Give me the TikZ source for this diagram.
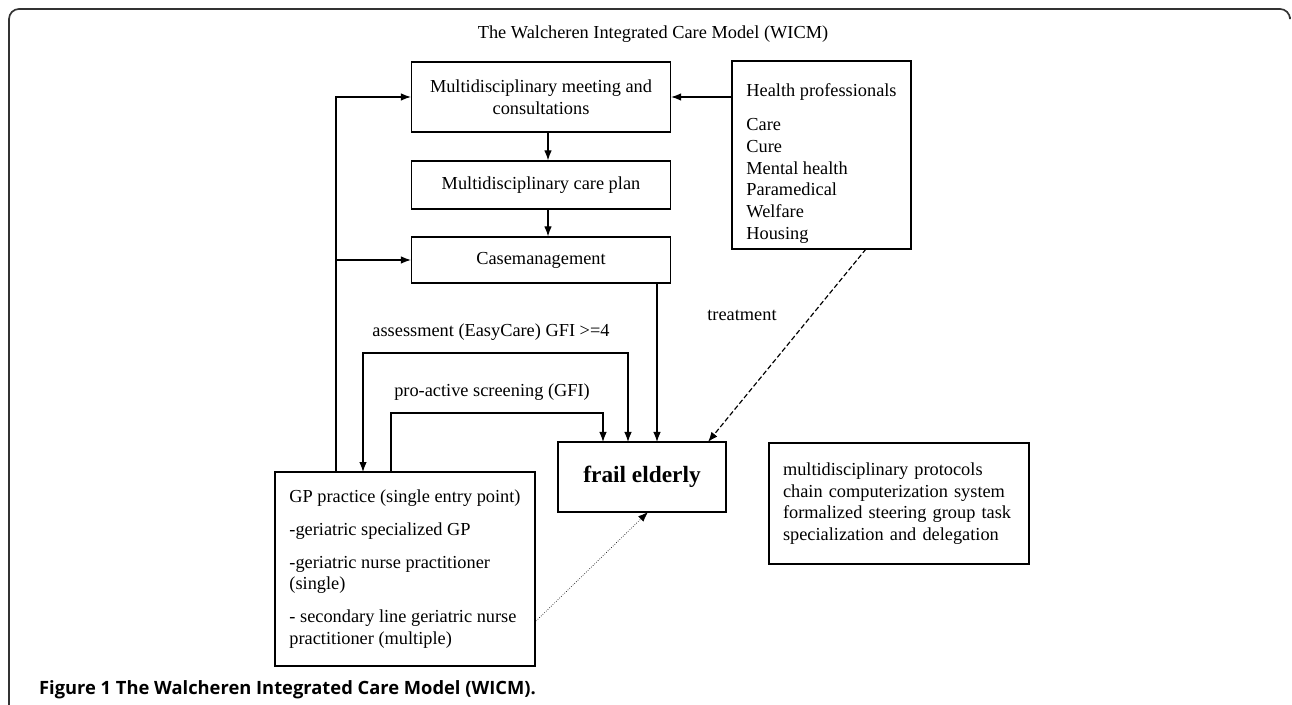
\documentclass[tikz,border=0pt]{standalone}
\usepackage{fontspec}
\setmainfont{Liberation Serif}
\newfontfamily\captionfont{Open Sans}
\usetikzlibrary{arrows.meta}

\begin{document}
\begin{tikzpicture}[x=0.6pt, y=-0.6pt, line width=0.7pt,
  >={Latex[length=6pt,width=4.5pt]},
  every node/.style={font=\fontsize{11}{13}\selectfont},
  box/.style={draw, line width=0.7pt, inner sep=0pt}]
\useasboundingbox (0,0) rectangle (1292,705);
% frame and title
\draw[black!80, line width=1pt, rounded corners=6pt] (9,705) -- (9,9) -- (1290,9) -- (1290,17);
\node (Title) at (653,34) {The Walcheren Integrated Care Model (WICM)};

\node[box, minimum width=155.4pt, minimum height=42pt, align=center] (Meeting) at (541,97) {Multidisciplinary meeting and\\consultations};
\node[box, minimum width=155.4pt, minimum height=28.8pt] (Plan) at (541,185) {Multidisciplinary care plan};
\node[box, minimum width=155.4pt, minimum height=27.6pt] (Case) at (541,260) {Casemanagement};

\node[box, minimum width=107.4pt, minimum height=112.8pt, align=left] (Health) at (821.5,155) {\rule{0pt}{18pt}Health professionals\\[7.4pt]Care\\Cure\\Mental health\\Paramedical\\Welfare\\Housing};

\node[box, minimum width=100.8pt, minimum height=42pt, font=\fontsize{14}{16}\selectfont\bfseries] (Frail) at (642,477) {frail elderly};

\node[box, minimum width=156pt, minimum height=116.4pt, align=left] (GP) at (405,569) {GP practice (single entry point)\\[6.6pt]-geriatric specialized GP\\[6.6pt]-geriatric nurse practitioner\\(single)\\[6.6pt]- secondary line geriatric nurse\\practitioner (multiple)};

\node[box, minimum height=72.6pt, text width=139.2pt, inner xsep=8.4pt, align=left] (Protocols) at (899,503.5) {multidisciplinary protocols\\chain computerization system\\formalized steering group task\\specialization and delegation};

% labels
\node (Assessment) at (491,332) {assessment (EasyCare) GFI >=4};
\node (Screening) at (492,392) {pro-active screening (GFI)};
\node (Treatment) at (742,315) {treatment};

% free ends
\coordinate (g0) at (336,472);
\coordinate (g1) at (363,472);
\coordinate (g2) at (391,472);
\coordinate (g3) at (536,621);
\coordinate (c1) at (603,442);
\coordinate (c2) at (628,442);
\coordinate (c3) at (657,442);
\coordinate (c4) at (708,442);
\coordinate (c5) at (648,512);
\coordinate (h1) at (866,249);

\draw[->] (g0) |- (Meeting.west);
\draw[->] (g0 |- Case.west) -- (Case.west);
\draw[->] ([xshift=4.2pt]Meeting.south) -- ([xshift=4.2pt]Plan.north);
\draw[->] ([xshift=4.2pt]Plan.south) -- ([xshift=4.2pt]Case.north);
\draw[->] (Health.west |- Meeting.east) -- (Meeting.east);
\draw[->] (Case.south -| c3) -- (c3);
\draw[<->] (g1) -- ++(0,-119) -| (c2);
\draw[->] (g2) -- ++(0,-59) -| (c1);
\draw[->, dash pattern=on 3pt off 1.5pt] (h1) -- (c4);
\draw[->, densely dotted, line width=0.4pt] (g3) -- (c5);

\node[anchor=base west, font=\captionfont\fontsize{11}{13}\selectfont\bfseries] (Caption) at (33,694) {Figure 1 The Walcheren Integrated Care Model (WICM).};
\end{tikzpicture}
\end{document}
